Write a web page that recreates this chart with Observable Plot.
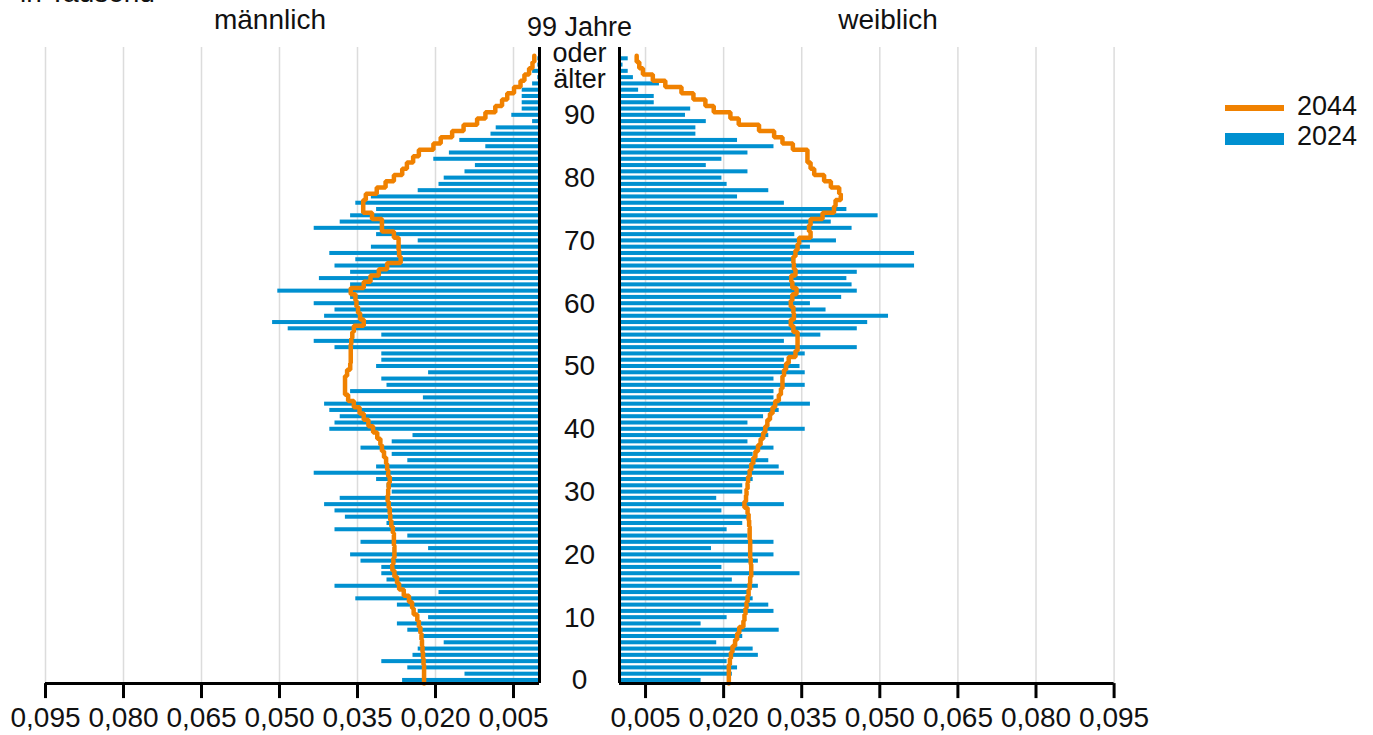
<!DOCTYPE html>
<html>
<head>
<meta charset="utf-8">
<script src="https://cdn.jsdelivr.net/npm/d3@7"></script>
<script src="https://cdn.jsdelivr.net/npm/@observablehq/plot@0.6"></script>
<style>
  html, body { margin: 0; padding: 0; background: #fff; }
  body { width: 1373px; height: 735px; position: relative; overflow: hidden;
         font-family: "Liberation Sans", Arial, sans-serif; color: #111; }
  .lbl { position: absolute; font-size: 28px; line-height: 28px; white-space: nowrap; }
  .panel { position: absolute; top: 0; }
  .panel svg { background: transparent !important; max-width: none !important; }
  .sw { position: absolute; }
</style>
</head>
<body>
<div class="lbl" style="left:20px; top:-21px;">in Tausend</div>
<div class="lbl" style="left:270px; top:6px; transform:translateX(-50%);">männlich</div>
<div class="lbl" style="left:888px; top:6px; transform:translateX(-50%);">weiblich</div>
<div id="left" class="panel" style="left:0px;"></div>
<div id="right" class="panel" style="left:580px;"></div>
<div class="sw" style="left:1225px; top:105px; width:59px; height:6px; background:#f08100;"></div>
<div class="lbl" style="left:1297px; top:92px; font-size:27px;">2044</div>
<div class="sw" style="left:1225px; top:133px; width:59px; height:12px; background:#0090d0;"></div>
<div class="lbl" style="left:1297px; top:122px; font-size:27px;">2024</div>
<script>
// Ages 0 .. 99 ("99 Jahre oder älter")
const ages = d3.range(0, 100);

// 2024, persons per age (axis shows thousands)
const male2024 = [
  26,14,25,30,24,23,18,22,25,27, 21,23,27,35,19,39,29,30,30,34,
  36,21,34,25,39,29,37,39,41,38, 28,29,31,43,31,25,28,34,28,24,
  40,39,38,40,41,22,36,29,30,21, 31,30,30,39,43,30,48,51,41,39,
  43,36,50,36,42,36,39,35,40,32, 23,31,43,38,36,31,35,32,23,19,
  18,14,12,20,17,10,15,9,8,1, 5,3,3,3,3,1,0,1,0,0
];
const female2024 = [
  15,21,22,20,26,25,18,23,30,15, 20,29,28,25,24,26,21,34,19,26,
  29,17,29,24,20,23,24,19,31,18, 23,23,25,31,30,28,25,29,24,28,
  35,24,27,30,36,29,29,35,29,35, 34,31,35,45,31,38,45,47,51,39,
  36,42,45,44,43,45,56,33,56,36, 41,33,44,40,49,43,31,22,28,20,
  19,24,16,19,24,29,22,14,14,16, 12,13,6,6,3,7,2,1,0,1
];
// 2044 projection, persons per age
const male2044 = [
  22.2,22.2,22.2,22.3,22.4,22.5,22.6,22.7,22.9,23.2, 23.5,24.2,24.5,25.1,26.1,27.0,27.4,27.9,28.3,28.1,
  27.9,27.9,28.0,28.0,28.2,28.5,28.7,28.8,29.0,29.2, 29.1,29.0,28.8,29.1,29.3,29.5,29.9,30.3,30.6,31.2,
  32.0,32.9,33.8,34.6,35.7,36.8,37.4,37.4,37.4,37.0, 36.4,36.3,36.3,36.3,36.2,36.0,35.7,33.8,34.5,34.9,
  35.2,35.4,36.3,33.8,32.5,30.9,29.3,26.7,27.0,27.1, 27.1,28.0,30.3,30.3,32.2,33.9,33.9,33.4,31.3,29.6,
  28.0,26.4,25.5,24.3,23.2,20.4,19.0,16.8,14.6,12.0, 10.4,8.5,7.2,6.2,4.9,3.65,2.9,2.0,1.35,1.0
];
const female2044 = [
  21.0,21.0,21.0,21.2,21.4,21.7,22.2,22.6,23.0,23.8, 24.0,24.2,24.4,24.6,24.8,25.0,25.1,25.3,25.3,25.2,
  25.1,25.1,25.1,25.0,25.0,24.9,24.8,24.6,24.0,24.3, 24.4,24.6,24.7,25.0,25.3,25.7,26.1,26.6,27.1,27.6,
  28.0,28.4,28.9,29.4,29.9,30.6,31.0,31.3,31.3,31.6, 32.0,32.5,33.8,34.2,34.2,34.2,33.4,32.9,33.5,33.4,
  32.9,33.2,34.0,33.2,33.0,33.8,33.5,33.4,33.8,34.2, 34.5,36.7,36.4,36.7,39.0,41.2,41.5,42.5,42.2,40.6,
  39.3,37.4,36.7,36.1,36.1,33.3,31.3,29.7,26.8,22.9, 21.3,18.1,16.5,14.2,11.9,8.8,6.4,4.5,3.8,3.3
];

const xTicks = [0.005, 0.02, 0.035, 0.05, 0.065, 0.08, 0.095];
const yTicks = [0, 10, 20, 30, 40, 50, 60, 70, 80, 90];
const topLabel = ["99 Jahre", "oder", "älter"];

const BLUE = "#0090d0", ORANGE = "#f08100";
const fmt = d => d.toFixed(3).replace(".", ",");

function bars(arr) { return ages.map((a, i) => ({age: a, v: arr[i] / 1000})); }
function steps(arr) {
  return ages.flatMap((a, i) => [{age: a - 0.5, v: arr[i] / 1000}, {age: a + 0.5, v: arr[i] / 1000}]);
}

function panel(side) {
  const isLeft = side === "left";
  const b = bars(isLeft ? male2024 : female2024);
  const s = steps(isLeft ? male2044 : female2044);
  const width = isLeft ? 700 : 640;
  const marks = [
    Plot.gridX({ticks: xTicks, stroke: "#dcdcdc", strokeOpacity: 1, strokeWidth: 1.5}),
    Plot.rectX(b, {x1: 0, x2: "v", y1: d => d.age - 0.32, y2: d => d.age + 0.32, fill: BLUE,
      insetLeft: isLeft ? -1.7 : 0, insetRight: isLeft ? 0 : -3.5}),
    Plot.line(s, {x: "v", y: "age", stroke: ORANGE, strokeWidth: 4.5, strokeLinejoin: "miter"}),
    Plot.ruleX([0], {stroke: "#000", strokeWidth: 3}),
    Plot.ruleY([-0.5], {stroke: "#000", strokeWidth: 3}),
    Plot.axisX({ticks: xTicks, tickFormat: fmt, tickSize: 15, tickPadding: 9, strokeWidth: 3, stroke: "#000", fill: "#111", fontSize: 28, label: null})
  ];
  if (isLeft) {
    marks.push(
      Plot.text(yTicks, {y: d => d, text: d => String(d), frameAnchor: "right", dx: 40, textAnchor: "middle", fontSize: 28, fill: "#111"}),
      Plot.text([{age: 99, label: topLabel.join("\n")}], {y: "age", text: "label", frameAnchor: "right", dx: 40, dy: -5, textAnchor: "middle", lineAnchor: "middle", lineHeight: 0.95, fontSize: 27, fill: "#111"})
    );
  }
  return Plot.plot({
    width, height: 735,
    marginLeft: isLeft ? 45 : 39,
    marginRight: isLeft ? width - 539 : width - 39 - 494.6,
    marginTop: 47,
    marginBottom: 735 - 683.1,
    style: {background: "transparent", fontFamily: "Liberation Sans, Arial, sans-serif", fontSize: "28px", color: "#111", overflow: "visible"},
    x: {domain: isLeft ? [0.095, 0] : [0, 0.095], axis: null, label: null},
    y: {domain: [-0.5, 100.8], axis: null, label: null},
    marks
  });
}

document.getElementById("left").appendChild(panel("left"));
document.getElementById("right").appendChild(panel("right"));
</script>
</body>
</html>
